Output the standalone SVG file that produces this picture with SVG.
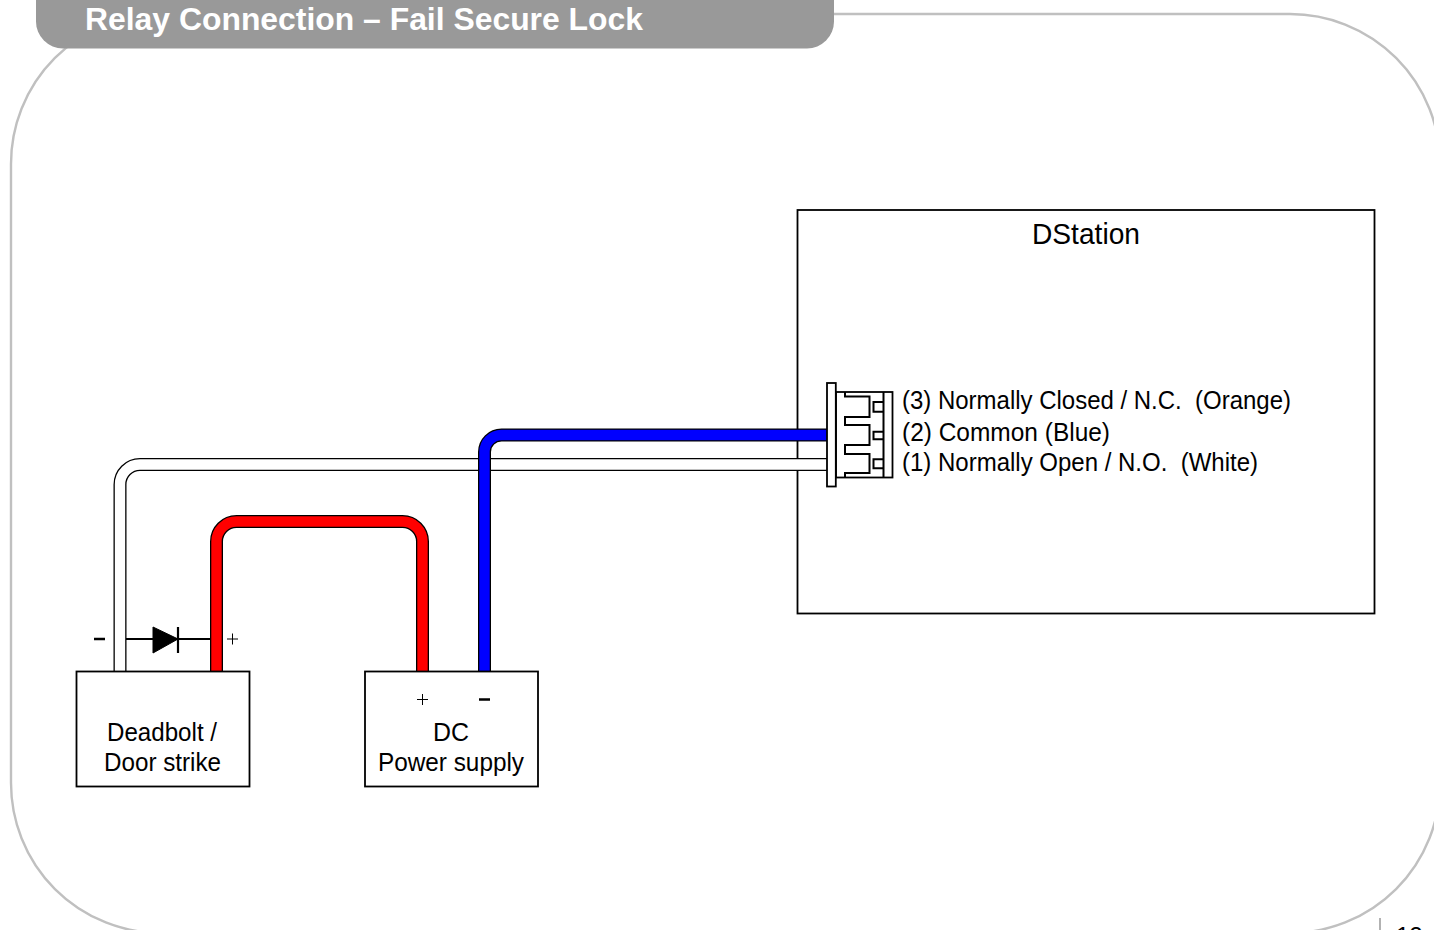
<svg xmlns="http://www.w3.org/2000/svg" width="1434" height="930" viewBox="0 0 1434 930">
<style>
text{font-family:"Liberation Sans",Arial,sans-serif;fill:#000;white-space:pre}
.l{font-size:25.500px}
.c{text-anchor:middle}
.box{fill:#fff;stroke:#000;stroke-width:1.800}
.wo{fill:none;stroke:#000;stroke-width:13}
.wi{fill:none;stroke-width:10.400}
.ln{fill:none;stroke:#000;stroke-width:2}
</style>
<rect id="frame" x="11" y="14" width="1429" height="919" rx="150" ry="150" fill="#fff" stroke="#c0c0c0" stroke-width="2.400"/>
<g id="title"><rect x="36" y="-40" width="798" height="88.500" rx="27" ry="27" fill="#999"/>
<text x="85" y="30" font-size="32" font-weight="700" textLength="558" lengthAdjust="spacingAndGlyphs" style="fill:#fff">Relay Connection – Fail Secure Lock</text></g>
<g id="dstation"><rect class="box" x="797.500" y="210" width="577" height="403.500"/>
<text x="1032" y="244" font-size="30" textLength="108" lengthAdjust="spacingAndGlyphs">DStation</text>
<text class="l" x="902" y="409" textLength="389" lengthAdjust="spacingAndGlyphs">(3) Normally Closed / N.C.  (Orange)</text>
<text class="l" x="902" y="441" textLength="208" lengthAdjust="spacingAndGlyphs">(2) Common (Blue)</text>
<text class="l" x="902" y="471" textLength="356" lengthAdjust="spacingAndGlyphs">(1) Normally Open / N.O.  (White)</text></g>
<g id="connectors">
<path class="wo" d="M120 671V484.500A20 20 0 0 1 140 464.500H828"/>
<path class="wi" d="M120 671V484.500A20 20 0 0 1 140 464.500H828" stroke="#fff"/>
<path class="wo" d="M216.500 671V541.500A20 20 0 0 1 236.500 521.500H402.500A20 20 0 0 1 422.500 541.500V671"/>
<path class="wi" d="M216.500 671V541.500A20 20 0 0 1 236.500 521.500H402.500A20 20 0 0 1 422.500 541.500V671" stroke="#f00"/>
<path class="wo" d="M484.500 671V452A17 17 0 0 1 501.500 435H828"/>
<path class="wi" d="M484.500 671V452A17 17 0 0 1 501.500 435H828" stroke="#00f"/>
<path d="M126 639H210" stroke="#000" stroke-width="2" fill="none"/>
</g>
<g id="diode"><polygon points="153,627 178,639 153,653" stroke="#000" stroke-width="1"/><path d="M178 627V653" stroke="#000" stroke-width="2.200" fill="none"/></g>
<g id="relay-connector">
<rect class="box" x="836" y="392" width="56.500" height="85.500"/>
<rect class="box" x="827" y="383" width="8.800" height="103.500"/>
<path class="ln" d="M845 392V396.500H869.500V417H845V425H869.500V445H845V454H869.500V473H845V477"/>
<path class="ln" d="M883.500 392V477M883.500 402H873.500V411.700H883.500M883.500 431.700H873.500V439.300H883.500M883.500 459.300H873.500V468.300H883.500"/>
</g>
<g id="deadbolt"><rect class="box" x="76.500" y="671.500" width="173" height="115"/>
<text class="l" x="107" y="741" textLength="110" lengthAdjust="spacingAndGlyphs">Deadbolt /</text>
<text class="l" x="104" y="771" textLength="117" lengthAdjust="spacingAndGlyphs">Door strike</text></g>
<g id="psu"><rect class="box" x="365" y="671.500" width="173" height="115"/>
<text class="l" x="433" y="741" textLength="36" lengthAdjust="spacingAndGlyphs">DC</text>
<text class="l" x="378" y="771" textLength="146" lengthAdjust="spacingAndGlyphs">Power supply</text>
</g>
<g id="polarity">
<path d="M94 639H105M479 699.500H490" stroke="#000" stroke-width="2.500" fill="none"/>
<path d="M227 639H238M232.500 633.500V644.500M417 699.500H428M422.500 694V705" stroke="#000" stroke-width="1" fill="none"/>
</g>
<g id="page"><path d="M1380 918V930" stroke="#999" stroke-width="1.500"/><text x="1396" y="944" font-size="24">12</text></g>
</svg>
